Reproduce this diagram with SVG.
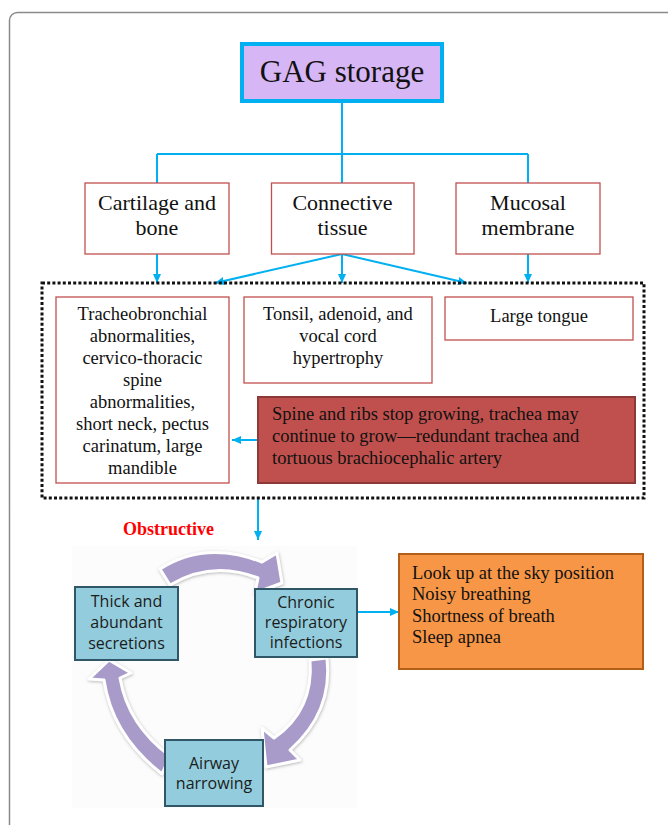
<svg xmlns="http://www.w3.org/2000/svg" width="668" height="825" viewBox="0 0 668 825">
<defs>
<marker id="ah" markerUnits="userSpaceOnUse" markerWidth="9" markerHeight="8" refX="9" refY="4" orient="auto">
<path d="M0,0 L9,4 L0,8 z" fill="#00B0F0"/>
</marker>
<filter id="sh" x="-20%" y="-20%" width="140%" height="140%">
<feDropShadow dx="0.5" dy="1" stdDeviation="1.5" flood-color="#8a8a8a" flood-opacity="0.6"/>
</filter>
<style>
.serif{font-family:"Liberation Serif","Times New Roman",serif;fill:#111}
.c{text-anchor:middle}
.s18{font-size:18.5px}
.s22{font-size:22px}
.rbox{fill:#fff;stroke:#C0504D;stroke-width:1.3}
.conn{stroke:#00B0F0;stroke-width:2;fill:none}
.cyc{fill:#93CDDD;stroke:#2F5768;stroke-width:2}
.sans{font-family:"Open Sans","Noto Sans",sans-serif;font-size:16px;fill:#1b1b1b;text-anchor:middle}
.parrow{fill:#A99BC9;stroke:#fff;stroke-width:3;stroke-linejoin:round;filter:url(#sh)}
</style>
</defs>
<rect x="9.5" y="12.5" width="680" height="840" rx="8" fill="#fff" stroke="#8a8a8a" stroke-width="1.5"/>
<rect x="72" y="546" width="285" height="262" fill="#fcfcfc"/>

<g id="connectors">
<path class="conn" d="M342,102 V154 M157,154 H528 M157,154 V183 M342,154 V183 M528,154 V183"/>
<line class="conn" x1="157" y1="254" x2="157" y2="283" marker-end="url(#ah)"/>
<line class="conn" x1="342" y1="254" x2="215" y2="283" marker-end="url(#ah)"/>
<line class="conn" x1="342" y1="254" x2="342" y2="283" marker-end="url(#ah)"/>
<line class="conn" x1="342" y1="254" x2="467" y2="283" marker-end="url(#ah)"/>
<line class="conn" x1="528" y1="254" x2="528" y2="283" marker-end="url(#ah)"/>
<line class="conn" x1="258" y1="440" x2="232" y2="440" marker-end="url(#ah)"/>
<line class="conn" x1="258" y1="498" x2="258" y2="540" marker-end="url(#ah)"/>
<line class="conn" x1="357" y1="612" x2="399" y2="612" marker-end="url(#ah)"/>
</g>

<g id="gag">
<rect x="242" y="44" width="200" height="57" fill="#D7B6F5" stroke="#00B0F0" stroke-width="4"/>
<text class="serif c" x="342" y="82" font-size="31">GAG storage</text>
</g>

<g id="cartilage">
<rect class="rbox" x="85" y="183" width="144" height="71"/>
<text class="serif c s22" x="157" y="210">Cartilage and</text>
<text class="serif c s22" x="157" y="235">bone</text>
</g>
<g id="connective">
<rect class="rbox" x="271.5" y="183" width="142.5" height="71"/>
<text class="serif c s22" x="342.5" y="210">Connective</text>
<text class="serif c s22" x="342.5" y="235">tissue</text>
</g>
<g id="mucosal">
<rect class="rbox" x="456" y="183" width="144" height="71"/>
<text class="serif c s22" x="528" y="210">Mucosal</text>
<text class="serif c s22" x="528" y="235">membrane</text>
</g>

<g id="group-box">
<rect x="42" y="283" width="602" height="215" fill="none" stroke="#111" stroke-width="3" stroke-dasharray="3 2.2"/>
</g>

<g id="tracheo">
<rect class="rbox" x="56" y="297" width="173" height="186"/>
<text class="serif c s18" x="142.5" y="320">Tracheobronchial</text>
<text class="serif c s18" x="142.5" y="342">abnormalities,</text>
<text class="serif c s18" x="142.5" y="364">cervico-thoracic</text>
<text class="serif c s18" x="142.5" y="386">spine</text>
<text class="serif c s18" x="142.5" y="408">abnormalities,</text>
<text class="serif c s18" x="142.5" y="430">short neck, pectus</text>
<text class="serif c s18" x="142.5" y="452">carinatum, large</text>
<text class="serif c s18" x="142.5" y="474">mandible</text>
</g>
<g id="tonsil">
<rect class="rbox" x="244" y="297" width="188" height="86"/>
<text class="serif c s18" x="338" y="320">Tonsil, adenoid, and</text>
<text class="serif c s18" x="338" y="342">vocal cord</text>
<text class="serif c s18" x="338" y="364">hypertrophy</text>
</g>
<g id="tongue">
<rect class="rbox" x="445" y="297" width="188" height="43"/>
<text class="serif c s18" x="539" y="322">Large tongue</text>
</g>
<g id="spine">
<rect x="258" y="397" width="377" height="86" fill="#C0504D" stroke="#8C3A37" stroke-width="2"/>
<text class="serif s18" x="272" y="420">Spine and ribs stop growing, trachea may</text>
<text class="serif s18" x="272" y="442">continue to grow—redundant trachea and</text>
<text class="serif s18" x="272" y="464">tortuous brachiocephalic artery</text>
</g>

<g id="obstructive">
<text x="123" y="535" font-family="Liberation Serif,serif" font-weight="bold" font-size="18" fill="#FF0000">Obstructive</text>
</g>

<g id="cycle-arrows">
<path class="parrow" d="M160,569 Q205,540 262,562 L277,553 L282,583 L255,593 L258,578 Q212,560 170,585 Z"/>
<path class="parrow" d="M310,660 L327,658 Q333,712 290,750 L300,760 L266,767 L262,728 L274,738 Q314,710 310,660 Z"/>
<path class="parrow" d="M162,774 Q112,735 104,680 L89,679 L109,660 L131,673 L120,678 Q128,725 170,756 Z"/>
</g>

<g id="secretions">
<rect class="cyc" x="75" y="587" width="103" height="73"/>
<text class="sans" x="126.5" y="607">Thick and</text>
<text class="sans" x="126.5" y="628">abundant</text>
<text class="sans" x="126.5" y="649">secretions</text>
</g>
<g id="chronic">
<rect class="cyc" x="255" y="589" width="102" height="68"/>
<text class="sans" x="306" y="608">Chronic</text>
<text class="sans" x="306" y="628">respiratory</text>
<text class="sans" x="306" y="648">infections</text>
</g>
<g id="airway">
<rect class="cyc" x="165" y="740" width="98" height="66"/>
<text class="sans" x="214" y="769">Airway</text>
<text class="sans" x="214" y="789">narrowing</text>
</g>

<g id="symptoms">
<rect x="399" y="554" width="244" height="115" fill="#F79646" stroke="#B45F17" stroke-width="2"/>
<text class="serif s18" x="412" y="578.5">Look up at the sky position</text>
<text class="serif s18" x="412" y="600">Noisy breathing</text>
<text class="serif s18" x="412" y="621.5">Shortness of breath</text>
<text class="serif s18" x="412" y="643">Sleep apnea</text>
</g>
</svg>
